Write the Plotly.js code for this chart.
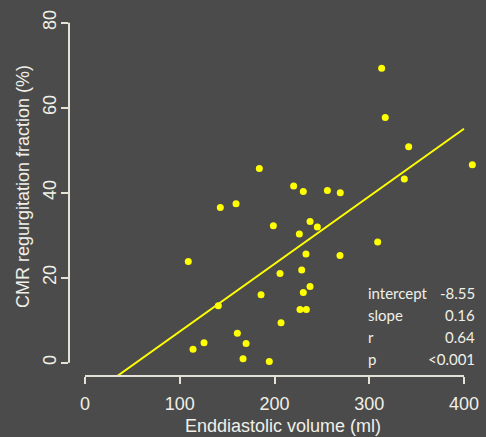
<!DOCTYPE html>
<html>
<head>
<meta charset="utf-8">
<script src="https://cdn.plot.ly/plotly-3.0.1.min.js"></script>
<style>
html,body{margin:0;padding:0;background:#4b4b4b;}
#chart{width:486px;height:437px;}
</style>
</head>
<body>
<div id="chart"></div>
<script>
// Enddiastolic volume (ml)
const edv = [109, 140.7, 125.6, 114, 184, 220.2, 230.4, 255.8, 269.4, 142.8,
             159.4, 198.8, 237.5, 245.2, 226.2, 233.2, 205.8, 228.7, 237.5, 230.4,
             185.8, 226.9, 233.6, 206.9, 160.8, 170, 166.8, 194.5, 313.1, 316.9,
             341.6, 408.8, 337, 308.9, 269.1];
// CMR regurgitation fraction (%)
const rf  = [23.8, 13.4, 4.7, 3.15, 45.7, 41.6, 40.3, 40.5, 40.0, 36.5,
             37.4, 32.2, 33.2, 31.9, 30.3, 25.6, 21.0, 21.8, 17.9, 16.5,
             16.0, 12.5, 12.5, 9.4, 6.9, 4.5, 0.9, 0.3, 69.3, 57.7,
             50.8, 46.6, 43.2, 28.4, 25.2];
const fitIntercept = -8.55;
const fitSlope = 0.159;
const statLabels = ["intercept", "slope", "r", "p"];
const statValues = ["-8.55", "0.16", "0.64", "<0.001"];
const xTicks = [0, 100, 200, 300, 400];
const yTicks = [0, 20, 40, 60, 80];

const bg = '#4b4b4b';
const txt = '#f0f0e8';
const axc = '#e4e2d6';
const yellow = '#ffff00';

const W = 486, H = 437;
const mL = 69, mR = 2, mT = 9, mB = 61;
const xRange = [-16.9, 421.1];
const yRange = [-3.13, 83.22];

const lineX0 = (yRange[0] - fitIntercept) / fitSlope;
const lineX = [lineX0, 400];
const lineY = lineX.map(v => fitIntercept + fitSlope * v);

const plotH = H - mT - mB;
const plotW = W - mL - mR;
function py(p){ return (H - mB - p) / plotH; }
function px(p){ return (p - mL) / plotW; }

const annotations = [];
const rowY = [293.3, 315, 337, 358.7];
statLabels.forEach((l, i) => {
  annotations.push({text: l, xref: 'paper', yref: 'paper', x: px(366), y: py(rowY[i]),
    xanchor: 'left', yanchor: 'middle', showarrow: false,
    font: {family: 'Lato, sans-serif', size: 15, color: txt}});
  annotations.push({text: statValues[i], xref: 'paper', yref: 'paper', x: px(477), y: py(rowY[i]),
    xanchor: 'right', yanchor: 'middle', showarrow: false,
    font: {family: 'Lato, sans-serif', size: 15, color: txt}});
});
annotations.push({text: 'Enddiastolic volume (ml)', xref: 'paper', yref: 'paper',
  x: px(283), y: py(426), xanchor: 'center', yanchor: 'middle', showarrow: false,
  font: {family: 'Liberation Sans, Arial, sans-serif', size: 18, color: txt}});
annotations.push({text: 'CMR regurgitation fraction (%)', xref: 'paper', yref: 'paper',
  x: px(23), y: py(187), xanchor: 'center', yanchor: 'middle', showarrow: false, textangle: -90,
  font: {family: 'Liberation Sans, Arial, sans-serif', size: 18, color: txt}});

const data = [
  {x: edv, y: rf, type: 'scatter', mode: 'markers', marker: {color: yellow, size: 7}, hoverinfo: 'skip'},
  {x: lineX, y: lineY, type: 'scatter', mode: 'lines', line: {color: yellow, width: 2}, hoverinfo: 'skip'}
];

const layout = {
  width: W, height: H,
  paper_bgcolor: bg, plot_bgcolor: bg,
  margin: {l: mL, r: mR, t: mT, b: mB, pad: 0},
  showlegend: false,
  xaxis: {range: xRange, tickvals: xTicks, ticktext: xTicks.map(String), ticks: 'outside', ticklen: 7, tickwidth: 2,
    tickcolor: axc, showgrid: false, zeroline: false, showline: false, ticklabelstandoff: 4,
    tickfont: {family: 'Liberation Sans, Arial, sans-serif', size: 18, color: txt}},
  yaxis: {range: yRange, tickvals: yTicks, ticktext: yTicks.map(String), ticks: 'outside', ticklen: 7, tickwidth: 2,
    tickcolor: axc, showgrid: false, zeroline: false, showline: false, tickangle: -90, ticklabelstandoff: -2,
    tickfont: {family: 'Liberation Sans, Arial, sans-serif', size: 18, color: txt}},
  shapes: [
    {type: 'line', xref: 'x', yref: 'paper', x0: 0, x1: 400, y0: 0, y1: 0, line: {color: axc, width: 2}},
    {type: 'line', xref: 'paper', yref: 'y', x0: 0, x1: 0, y0: 0, y1: 80, line: {color: axc, width: 2}}
  ],
  annotations: annotations
};

Plotly.newPlot('chart', data, layout, {displayModeBar: false, staticPlot: true});
</script>
</body>
</html>
